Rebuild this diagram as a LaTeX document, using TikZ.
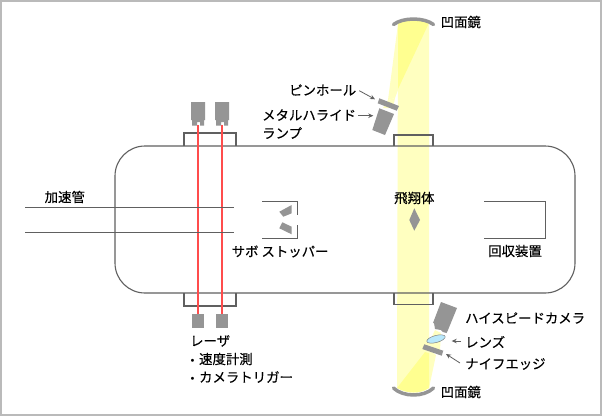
\documentclass[tikz,border=0pt]{standalone}
\usepackage{fontspec}
\usetikzlibrary{arrows.meta}
\setmainfont[FakeBold=0.25]{Noto Sans CJK JP}
\newfontfamily\bulletfont{DejaVu Sans}
\newcommand{\bulletmark}{{\bulletfont\fontsize{10}{12}\selectfont •}\kern3.5pt}
\definecolor{pale}{HTML}{FFFFC0}
\definecolor{bright}{HTML}{FFFF90}
\definecolor{part}{HTML}{959595}
\definecolor{wire}{HTML}{606060}
\begin{document}
\begin{tikzpicture}[x=1pt,y=-1pt,
  line/.style={draw=wire,line width=1.1pt},
  thin line/.style={draw=wire,line width=0.9pt},
  mirror/.style={draw=part,line width=3.5pt,line cap=round},
  label/.style={font=\fontsize{13.4}{15}\selectfont,text=black,inner sep=0pt,anchor=west},
  lead/.style={draw=wire,line width=0.8pt,-{Stealth[length=5pt,width=4.5pt]}}]
\useasboundingbox (0,0) rectangle (602,416);
\fill[white] (0,0) rectangle (602,416);
\draw[black!27!white,line width=2pt] (1,1) rectangle (601,415);
% beams
\fill[pale] (398,22) .. controls (408,18) and (420,18) .. (429,22) -- (429,388) .. controls (420,394) and (408,394) .. (397,388) -- cycle;
\fill[pale] (398,24) -- (388,100) -- (395,98) -- (398,90) -- cycle;
\fill[pale] (388,100) -- (395,98) -- (393,108) -- (383,108) -- cycle;
\fill[pale] (429,388) -- (436,355) -- (429,350) -- cycle;
\fill[pale] (428,345) -- (440,350) -- (441,333) -- (435,330) -- cycle;
\fill[bright] (398,22) .. controls (408,18) and (420,18) .. (428,23) -- (428,25) -- (398,89) -- cycle;
\fill[bright] (397,388) -- (425,352) -- (429,353) -- (429,388) .. controls (420,394) and (408,394) .. (397,388) -- cycle;
% vessel
\draw[line] (145,146) -- (545,146) arc[start angle=-90,end angle=0,radius=30] -- (575,263) arc[start angle=0,end angle=90,radius=30] -- (145,293) arc[start angle=90,end angle=180,radius=30] -- (115,176) arc[start angle=180,end angle=270,radius=30] -- cycle;
% ports
\draw[line] (184,146) |- (236,133) -- (236,146);
\draw[line] (184,293) |- (236,306) -- (236,293);
\draw[line] (394,146) |- (433,135) -- (433,146);
\draw[line] (394,293) |- (433,304.5) -- (433,293);
% lasers
\foreach \lx in {198,222}{
  \draw[red!70!white,line width=1.3pt] (\lx,125) -- (\lx,315);
  \fill[part] (\lx-7,102) -- (\lx+7,102) -- (\lx+7,120) -- (\lx+6,120) -- (\lx+6,125.5) -- (\lx+2,125.5) -- (\lx+2,122) -- (\lx-1,122) -- (\lx-1,125.5) -- (\lx-6,125.5) -- (\lx-6,120) -- (\lx-7,120) -- cycle;
  \fill[part] (\lx-6,314) rectangle (\lx+6,327.7);
}
% tube
\draw[thin line] (25,207.5) -- (234,207.5);
\draw[thin line] (25,232) -- (234,232);
% skimmer
\draw[thin line] (262,201.5) -- (297.3,201.5) -- (297.3,215);
\draw[thin line] (262,238.3) -- (297.3,238.3) -- (297.3,225);
\fill[part] (279.3,211.7) -- (291.7,205) -- (291.7,213.3) -- (283.3,216.7) -- cycle;
\fill[part] (279.3,228.3) -- (282.3,222.3) -- (291.7,226.7) -- (291.7,234.3) -- cycle;
% collector
\draw[thin line] (484,201) -- (545,201) -- (545,238.3) -- (484,238.3);
% body
\fill[part] (414.3,208.3) -- (420,220) -- (414.3,230.7) -- (409.3,220) -- cycle;
% mirrors
\draw[mirror] (393.5,24.5) .. controls (403,17.2) and (424,17.2) .. (433.5,24.5);
\draw[mirror] (393.5,388) .. controls (403,397.3) and (424,397.3) .. (433.5,388);
% lamp, pinhole
\fill[part] (379.3,98.3) -- (399,106) -- (396.7,110.7) -- (377.7,103.3) -- cycle;
\fill[part] (379.3,108.3) -- (394,114) -- (385,135) -- (372.3,130) -- cycle;
% camera
\fill[part] (441,302) -- (457,308) -- (448,330) -- (446.5,333) -- (443,332) -- (441,330) -- (435,329) -- (434,323) -- (433,323) -- cycle;
\fill[cyan!28!white,draw=black!50!white,line width=0.5pt,rotate around={15:(436,339)}] (436,339) ellipse (9.5 and 3.5);
\fill[part] (424.3,344.3) -- (443.3,350.7) -- (441.7,355.7) -- (422.3,349) -- cycle;
% labels
\node[label] (a) at (44.5,197) {加速管};
\node[label] (b) at (231.5,251.5) {サボ ストッパー};
\node[label] (c) at (394,198) {飛翔体};
\node[label] (d) at (488,251) {回収装置};
\node[label] (e) at (440.5,22) {凹面鏡};
\node[label] (f) at (440.5,392) {凹面鏡};
\node[label] (g) at (289,90) {ピンホール};
\node[label] (h) at (262,115) {メタルハライド};
\node[label] (i) at (262,133) {ランプ};
\node[label] (j) at (465,318) {ハイスピードカメラ};
\node[label] (k) at (465,342) {レンズ};
\node[label] (l) at (465,364) {ナイフエッジ};
\node[label] (m) at (190,341) {レーザ};
\node[label] (n) at (189.5,359) {\bulletmark 速度計測};
\node[label] (o) at (189.5,377) {\bulletmark カメラトリガー};
% leaders
\coordinate (p1) at (375,99.3);
\coordinate (p2) at (373.3,115.7);
\coordinate (p3) at (451.7,341);
\coordinate (p4) at (446,354);
\coordinate (q1) at (359.3,90.7);
\coordinate (q2) at (358.3,115.7);
\coordinate (q3) at (461,341);
\coordinate (q4) at (460,363);
\draw[lead] (q1) -- (p1);
\draw[lead] (q2) -- (p2);
\draw[lead] (q3) -- (p3);
\draw[lead] (q4) -- (p4);
\end{tikzpicture}
\end{document}
